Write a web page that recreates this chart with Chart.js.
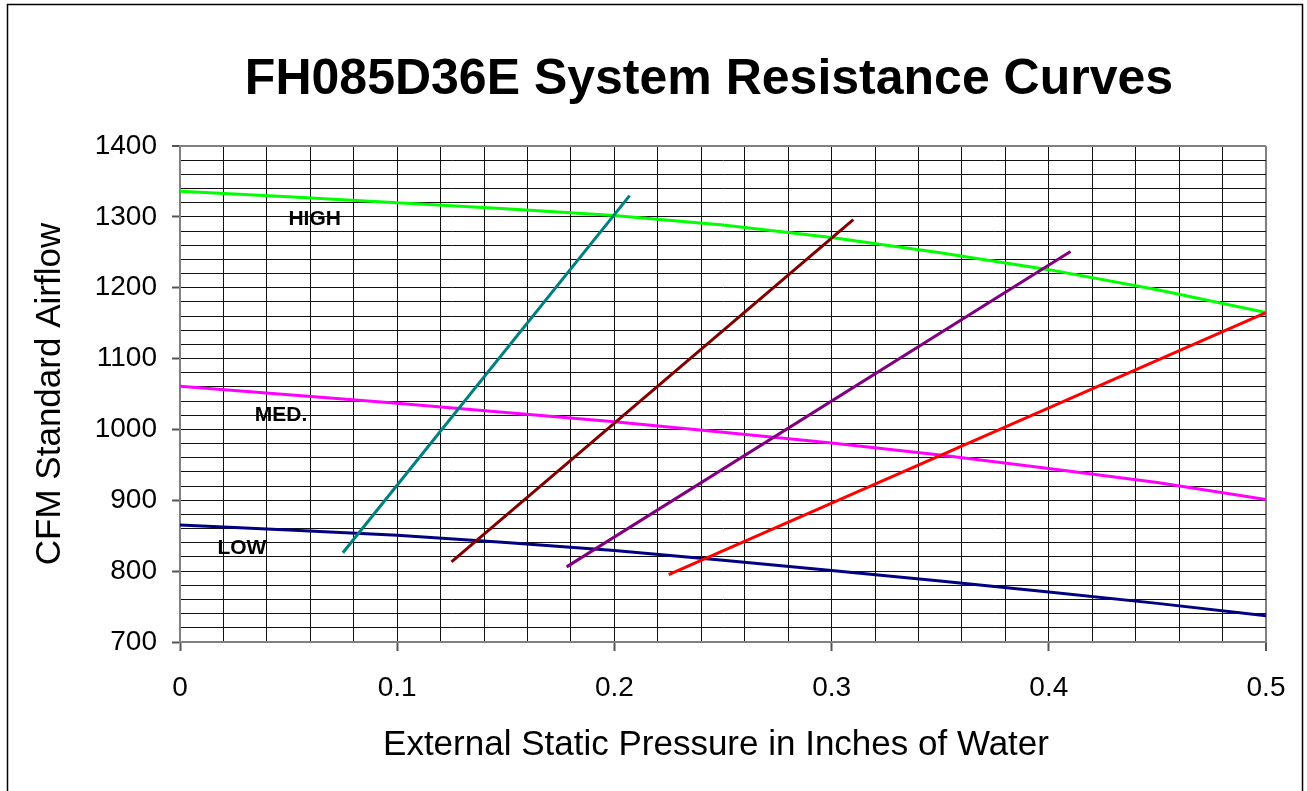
<!DOCTYPE html>
<html>
<head>
<meta charset="utf-8">
<script src="https://cdn.jsdelivr.net/npm/chart.js@4.4.1/dist/chart.umd.min.js"></script>
<style>
html,body{margin:0;padding:0;background:#fff;}
canvas{display:block;}
</style>
</head>
<body>
<canvas id="c" width="1307" height="791"></canvas>
<script>
// ---- data ----
const chartTitle = 'FH085D36E System Resistance Curves';
const xTitle = 'External Static Pressure in Inches of Water';
const yTitle = 'CFM Standard Airflow';

const xTickValues = [0, 0.1, 0.2, 0.3, 0.4, 0.5];
const xTickLabels = ['0', '0.1', '0.2', '0.3', '0.4', '0.5'];
const yTickValues = [700, 800, 900, 1000, 1100, 1200, 1300, 1400];
const yTickLabels = ['700', '800', '900', '1000', '1100', '1200', '1300', '1400'];
const xMinorPerMajor = 5;   // grid every 0.02
const yMinorPerMajor = 5;   // grid every 20

// blower speed curves
const pressure = [0, 0.05, 0.1, 0.15, 0.2, 0.25, 0.3, 0.35, 0.4, 0.45, 0.5];
const highCfm = [1336, 1328.5, 1320, 1311.5, 1302, 1288.5, 1271, 1249.5, 1225.5, 1197, 1165];
const medCfm  = [1061, 1049, 1037, 1024, 1011, 996, 981, 964, 945, 925, 901];
const lowCfm  = [865, 858, 850.5, 840.5, 829, 815.5, 801, 786, 770.5, 754.5, 737];

// system resistance lines (start, end)
const sys1P = [0.075, 0.207]; const sys1Cfm = [826, 1330];
const sys2P = [0.125, 0.31];  const sys2Cfm = [813, 1296];
const sys3P = [0.178, 0.41];  const sys3Cfm = [806, 1251];
const sys4P = [0.225, 0.5];   const sys4Cfm = [795, 1165];

// speed labels
const speedNames = ['HIGH', 'MED.', 'LOW'];
const speedLabelP = [0.062, 0.0465, 0.0285];
const speedLabelCfm = [1297, 1020, 833];

// ---- build ----
const FONT = "'Liberation Sans', Arial, Helvetica, sans-serif";
const pts = (xs, ys) => xs.map((x, i) => ({x: x, y: ys[i]}));

function gridTicks(majors, per) {
  const out = [];
  for (let i = 0; i < majors.length - 1; i++) {
    const a = majors[i], b = majors[i + 1];
    for (let k = 0; k < per; k++) out.push({value: a + (b - a) * k / per, major: k === 0});
  }
  out.push({value: majors[majors.length - 1], major: true});
  return out;
}
function labelFor(values, labels, v) {
  for (let i = 0; i < values.length; i++) if (Math.abs(values[i] - v) < 1e-9) return labels[i];
  return '';
}

const mkLine = (label, data, color) => ({
  label, data, borderColor: color, backgroundColor: color, borderWidth: 3,
  showLine: true, pointRadius: 0, pointHoverRadius: 0, fill: false, tension: 0
});

const decor = {
  id: 'decor',
  beforeDraw(chart) {
    const ctx = chart.ctx;
    ctx.save();
    ctx.fillStyle = '#fff';
    ctx.fillRect(0, 0, chart.width, chart.height);
    ctx.restore();
  },
  afterDatasetsDraw(chart) {
    const ctx = chart.ctx, xs = chart.scales.x, ys = chart.scales.y;
    ctx.save();
    ctx.fillStyle = '#000';
    ctx.font = 'bold 21px ' + FONT;
    ctx.textAlign = 'center';
    ctx.textBaseline = 'middle';
    speedNames.forEach((n, i) => {
      ctx.fillText(n, xs.getPixelForValue(speedLabelP[i]), ys.getPixelForValue(speedLabelCfm[i]));
    });
    ctx.restore();
  },
  afterDraw(chart) {
    const ctx = chart.ctx;
    ctx.save();
    ctx.fillStyle = '#000';
    ctx.textAlign = 'center';
    ctx.textBaseline = 'middle';
    ctx.font = 'bold 50px ' + FONT;
    ctx.fillText(chartTitle, 709, 80);
    ctx.font = '35px ' + FONT;
    ctx.fillText(xTitle, 716, 745);
    ctx.strokeStyle = '#000';
    ctx.lineWidth = 1.5;
    ctx.strokeRect(7.5, 4.5, 1295, 820);
    ctx.restore();
  }
};

new Chart(document.getElementById('c'), {
  type: 'scatter',
  data: {
    datasets: [
      mkLine('sys1', pts(sys1P, sys1Cfm), '#008080'),
      mkLine('sys2', pts(sys2P, sys2Cfm), '#800000'),
      mkLine('sys3', pts(sys3P, sys3Cfm), '#800080'),
      mkLine('sys4', pts(sys4P, sys4Cfm), '#FF0000'),
      mkLine('HIGH', pts(pressure, highCfm), '#00FF00'),
      mkLine('MED', pts(pressure, medCfm), '#FF00FF'),
      mkLine('LOW', pts(pressure, lowCfm), '#000080')
    ]
  },
  options: {
    responsive: false,
    animation: false,
    events: [],
    layout: {padding: {top: 146, right: 41, bottom: 0, left: 0}},
    plugins: {legend: {display: false}, tooltip: {enabled: false}, title: {display: false}},
    scales: {
      x: {
        type: 'linear', position: 'bottom', min: 0, max: 0.5,
        afterBuildTicks: s => { s.ticks = gridTicks(xTickValues, xMinorPerMajor); },
        afterFit: s => { s.height = 149; },
        ticks: {
          autoSkip: false, maxRotation: 0, minRotation: 0, padding: 20, color: '#000',
          font: {family: FONT, size: 28},
          callback: v => labelFor(xTickValues, xTickLabels, v)
        },
        grid: {
          color: c => (c.tick && Math.abs(c.tick.value - 0.5) < 1e-9) ? '#808080' : '#111',
          lineWidth: c => (c.tick && Math.abs(c.tick.value - 0.5) < 1e-9) ? 2 : 1,
          tickLength: 9,
          tickColor: c => (c.tick && c.tick.major) ? '#555' : 'rgba(0,0,0,0)',
          tickWidth: 2
        },
        border: {color: '#808080', width: 2},
        title: {display: false}
      },
      y: {
        type: 'linear', position: 'left', min: 700, max: 1400,
        afterBuildTicks: s => { s.ticks = gridTicks(yTickValues, yMinorPerMajor); },
        afterFit: s => { s.width = 180; },
        ticks: {
          autoSkip: false, padding: 15, color: '#000',
          font: {family: FONT, size: 28},
          callback: v => labelFor(yTickValues, yTickLabels, v)
        },
        grid: {
          color: c => (c.tick && Math.abs(c.tick.value - 1400) < 1e-9) ? '#808080' : '#111',
          lineWidth: c => (c.tick && Math.abs(c.tick.value - 1400) < 1e-9) ? 2 : 1,
          tickLength: 8,
          tickColor: c => (c.tick && c.tick.major) ? '#555' : 'rgba(0,0,0,0)',
          tickWidth: 2
        },
        border: {color: '#808080', width: 2},
        title: {display: true, text: yTitle, color: '#000', font: {family: FONT, size: 35}, padding: {top: 29, bottom: 0}}
      }
    }
  },
  plugins: [decor]
});
</script>
</body>
</html>
